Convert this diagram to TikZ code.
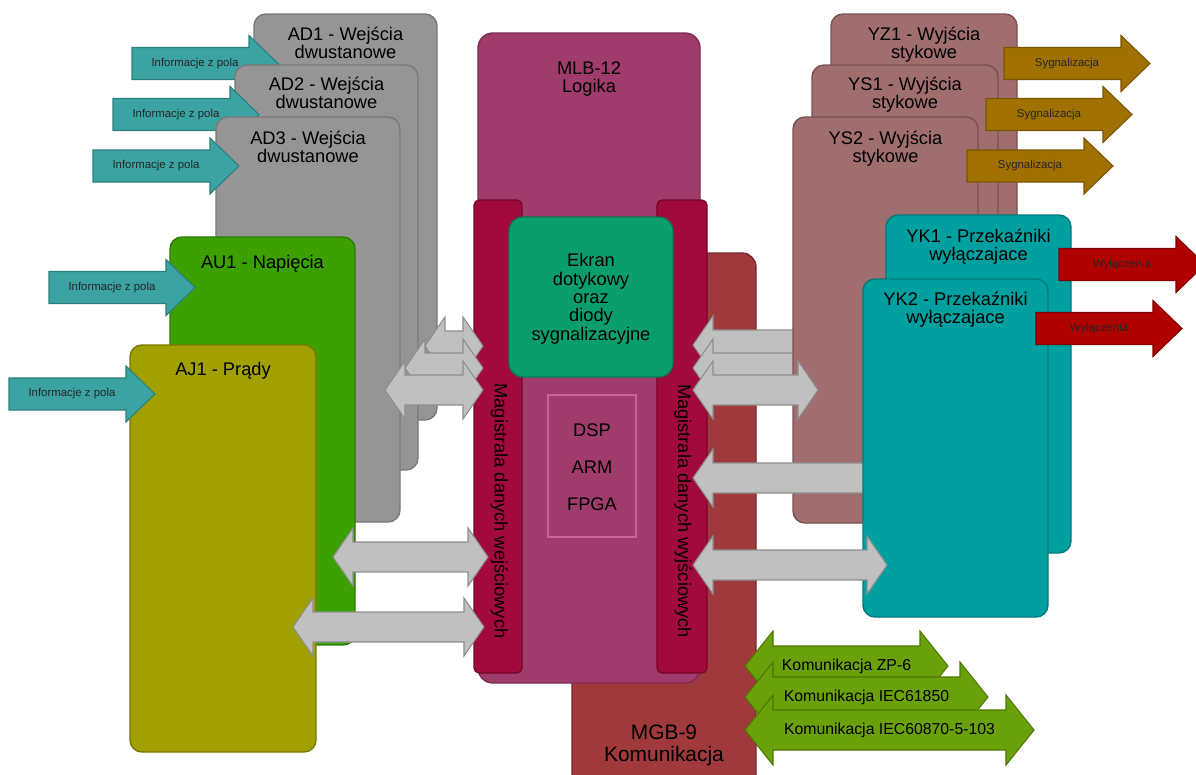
\documentclass[tikz,border=0pt]{standalone}
\usepackage{fontspec}
\setmainfont{Liberation Sans}

\definecolor{adgray}{HTML}{959595}
\definecolor{adedge}{HTML}{787878}
\definecolor{augreen}{HTML}{3CA000}
\definecolor{auedge}{HTML}{2C7A00}
\definecolor{ajolive}{HTML}{A2A000}
\definecolor{ajedge}{HTML}{7A7800}
\definecolor{infoteal}{HTML}{3BA3A1}
\definecolor{infoedge}{HTML}{2A7F7D}
\definecolor{mlbpink}{HTML}{A03C6C}
\definecolor{mlbedge}{HTML}{7E2A52}
\definecolor{buscrimson}{HTML}{A2093C}
\definecolor{busedge}{HTML}{78052A}
\definecolor{ekrangreen}{HTML}{0A9E6D}
\definecolor{ekranedge}{HTML}{077A54}
\definecolor{dspedge}{HTML}{C8639A}
\definecolor{mgbred}{HTML}{A0393B}
\definecolor{mgbedge}{HTML}{7A2628}
\definecolor{yrose}{HTML}{A06E6E}
\definecolor{yroseedge}{HTML}{7C5050}
\definecolor{ykteal}{HTML}{00A0A0}
\definecolor{ykedge}{HTML}{007A7A}
\definecolor{sigold}{HTML}{A07000}
\definecolor{sigedge}{HTML}{7A5500}
\definecolor{tripred}{HTML}{B00000}
\definecolor{tripedge}{HTML}{7E0000}
\definecolor{busgray}{HTML}{C0C0C0}
\definecolor{busgrayedge}{HTML}{8E8E8E}
\definecolor{comgreen}{HTML}{6AA00A}
\definecolor{comedge}{HTML}{4C7800}

\tikzset{
  card/.style={rounded corners=6.8pt, line width=0.8pt},
  title/.style={font=\fontsize{10.4}{10.2}\selectfont, align=center, anchor=north, inner sep=0pt},
  arrowtext/.style={font=\fontsize{6.5}{6.5}\selectfont, text=black!85, inner sep=0pt},
  comtext/.style={font=\fontsize{9}{9}\selectfont, inner sep=0pt},
  bustext/.style={font=\fontsize{10.4}{10.4}\selectfont, rotate=-90, inner sep=0pt},
  info/.style={fill=infoteal, draw=infoedge, line width=0.6pt},
  signal/.style={fill=sigold, draw=sigedge, line width=0.6pt},
  trip/.style={fill=tripred, draw=tripedge, line width=0.6pt},
  link/.style={fill=busgray, draw=busgrayedge, line width=0.6pt},
  com/.style={fill=comgreen, draw=comedge, line width=0.6pt}
}

% arrow with text: style, name, tail x, y, text
\newcommand{\onearrow}[5]{%
  \draw[#1] (#3,#4-16) -- (#3+117,#4-16) -- (#3+117,#4-28) -- (#3+146,#4)
    -- (#3+117,#4+28) -- (#3+117,#4+16) -- (#3,#4+16) -- cycle;
  \node[arrowtext] (#2) at (#3+63,#4) {#5};
}
% bus arrow: style, left tip, right tip, y
\newcommand{\twoarrow}[4]{%
  \draw[#1] (#2,#4) -- (#2+20,#4-29) -- (#2+20,#4-15) -- (#3-20,#4-15) -- (#3-20,#4-29)
    -- (#3,#4) -- (#3-20,#4+29) -- (#3-20,#4+15) -- (#2+20,#4+15) -- (#2+20,#4+29) -- cycle;
}
% communication arrow: name, left tip, right tip, y, text
\newcommand{\comarrow}[5]{%
  \draw[com] (#2,#4) -- (#2+28,#4-35) -- (#2+28,#4-20) -- (#3-28,#4-20) -- (#3-28,#4-35)
    -- (#3,#4) -- (#3-28,#4+35) -- (#3-28,#4+20) -- (#2+28,#4+20) -- (#2+28,#4+35) -- cycle;
  \node[comtext] (#1) at ({(#2+#3)/2},#4) {#5};
}

\begin{document}
\begin{tikzpicture}[x=0.02cm, y=-0.02cm]
  \useasboundingbox (0,0) rectangle (1196,774);
  \clip (0,0) rectangle (1196,774);

  % inputs
  \draw[card, fill=adgray, draw=adedge] (254,14) rectangle (437,420);
  \node[title] (ad1) at (345.5,27) {AD1 - Wejścia\\dwustanowe};
  \onearrow{info}{in1}{132}{63.5}{Informacje z pola}
  \draw[card, fill=adgray, draw=adedge] (235,65) rectangle (418,470);
  \node[title] (ad2) at (326.5,77) {AD2 - Wejścia\\dwustanowe};
  \onearrow{info}{in2}{113}{114.5}{Informacje z pola}
  \draw[card, fill=adgray, draw=adedge] (216,117) rectangle (400,522);
  \node[title] (ad3) at (308,131) {AD3 - Wejścia\\dwustanowe};
  \onearrow{info}{in3}{93}{166}{Informacje z pola}
  \draw[card, fill=augreen, draw=auedge] (170,237) rectangle (355,645);
  \node[title] (au1) at (262.5,255) {AU1 - Napięcia};
  \onearrow{info}{in4}{49}{287.5}{Informacje z pola}
  \draw[card, fill=ajolive, draw=ajedge] (130,345) rectangle (316,752);
  \node[title] (aj1) at (223,362) {AJ1 - Prądy};
  \onearrow{info}{in5}{9}{394}{Informacje z pola}

  % logic and communication
  \draw[card, fill=mgbred, draw=mgbedge, rounded corners=8pt] (572,253) rectangle (756,795);
  \node[title, font=\fontsize{11.9}{12.5}\selectfont] (mgb) at (664,725) {MGB-9\\Komunikacja};
  \draw[card, fill=mlbpink, draw=mlbedge, rounded corners=8.5pt] (478,33) rectangle (700,683);
  \node[title] (mlb) at (589,61) {MLB-12\\Logika};
  \draw[card, fill=buscrimson, draw=busedge, rounded corners=3pt] (474,200) rectangle (522,673);
  \draw[card, fill=buscrimson, draw=busedge, rounded corners=3pt] (657,200) rectangle (707,673);
  \node[bustext] (busin) at (499.5,511) {Magistrala danych wejściowych};
  \node[bustext] (busout) at (683,511) {Magistrala danych wyjściowych};
  \draw[card, fill=ekrangreen, draw=ekranedge, rounded corners=8pt] (509,217) rectangle (673,377);
  \node[title, font=\fontsize{10.4}{10.5}\selectfont] (ekran) at (591,253)
    {Ekran\\dotykowy\\oraz\\diody\\sygnalizacyjne};
  \draw[draw=dspedge, line width=1pt] (548,395) rectangle (636,537);
  \node[font=\fontsize{10.4}{21}\selectfont, align=center, inner sep=0pt] (cpu) at (592,467) {DSP\\ARM\\FPGA};

  % links to the input bus
  \twoarrow{link}{425}{483}{346}
  \twoarrow{link}{405}{483}{368}
  \twoarrow{link}{385}{483}{390}
  \twoarrow{link}{333}{488}{557}
  \twoarrow{link}{293}{484}{627}

  % outputs
  \draw[card, fill=yrose, draw=yroseedge] (831,14) rectangle (1017,420);
  \node[title] (yz1) at (924,27) {YZ1 - Wyjścia\\stykowe};
  \onearrow{signal}{sig1}{1004}{63.5}{Sygnalizacja}
  \draw[card, fill=yrose, draw=yroseedge] (812,65) rectangle (998,472);
  \node[title] (ys1) at (905,77) {YS1 - Wyjścia\\stykowe};
  \onearrow{signal}{sig2}{986}{114.5}{Sygnalizacja}
  \twoarrow{link}{693}{818}{345}
  \twoarrow{link}{693}{818}{368}
  \draw[card, fill=yrose, draw=yroseedge] (793,117) rectangle (978,523);
  \node[title] (ys2) at (885.5,131) {YS2 - Wyjścia\\stykowe};
  \onearrow{signal}{sig3}{967}{166}{Sygnalizacja}
  \twoarrow{link}{693}{818}{390}
  \twoarrow{link}{693}{890}{478}
  \draw[card, fill=ykteal, draw=ykedge] (886,215) rectangle (1071,553);
  \node[title] (yk1) at (978.5,229) {YK1 - Przekaźniki\\wyłączajace};
  \onearrow{trip}{trip1}{1059}{264.5}{Wyłączenia}
  \draw[card, fill=ykteal, draw=ykedge] (863,279) rectangle (1048,617);
  \node[title] (yk2) at (955.5,292) {YK2 - Przekaźniki\\wyłączajace};
  \onearrow{trip}{trip2}{1036}{328.5}{Wyłączenia}
  \twoarrow{link}{693}{887}{565}

  % communication
  \comarrow{zp6}{745}{948}{666}{Komunikacja ZP-6}
  \comarrow{iec1}{745}{988}{697}{Komunikacja IEC61850}
  \comarrow{iec2}{745}{1034}{730}{Komunikacja IEC60870-5-103}

\end{tikzpicture}
\end{document}
